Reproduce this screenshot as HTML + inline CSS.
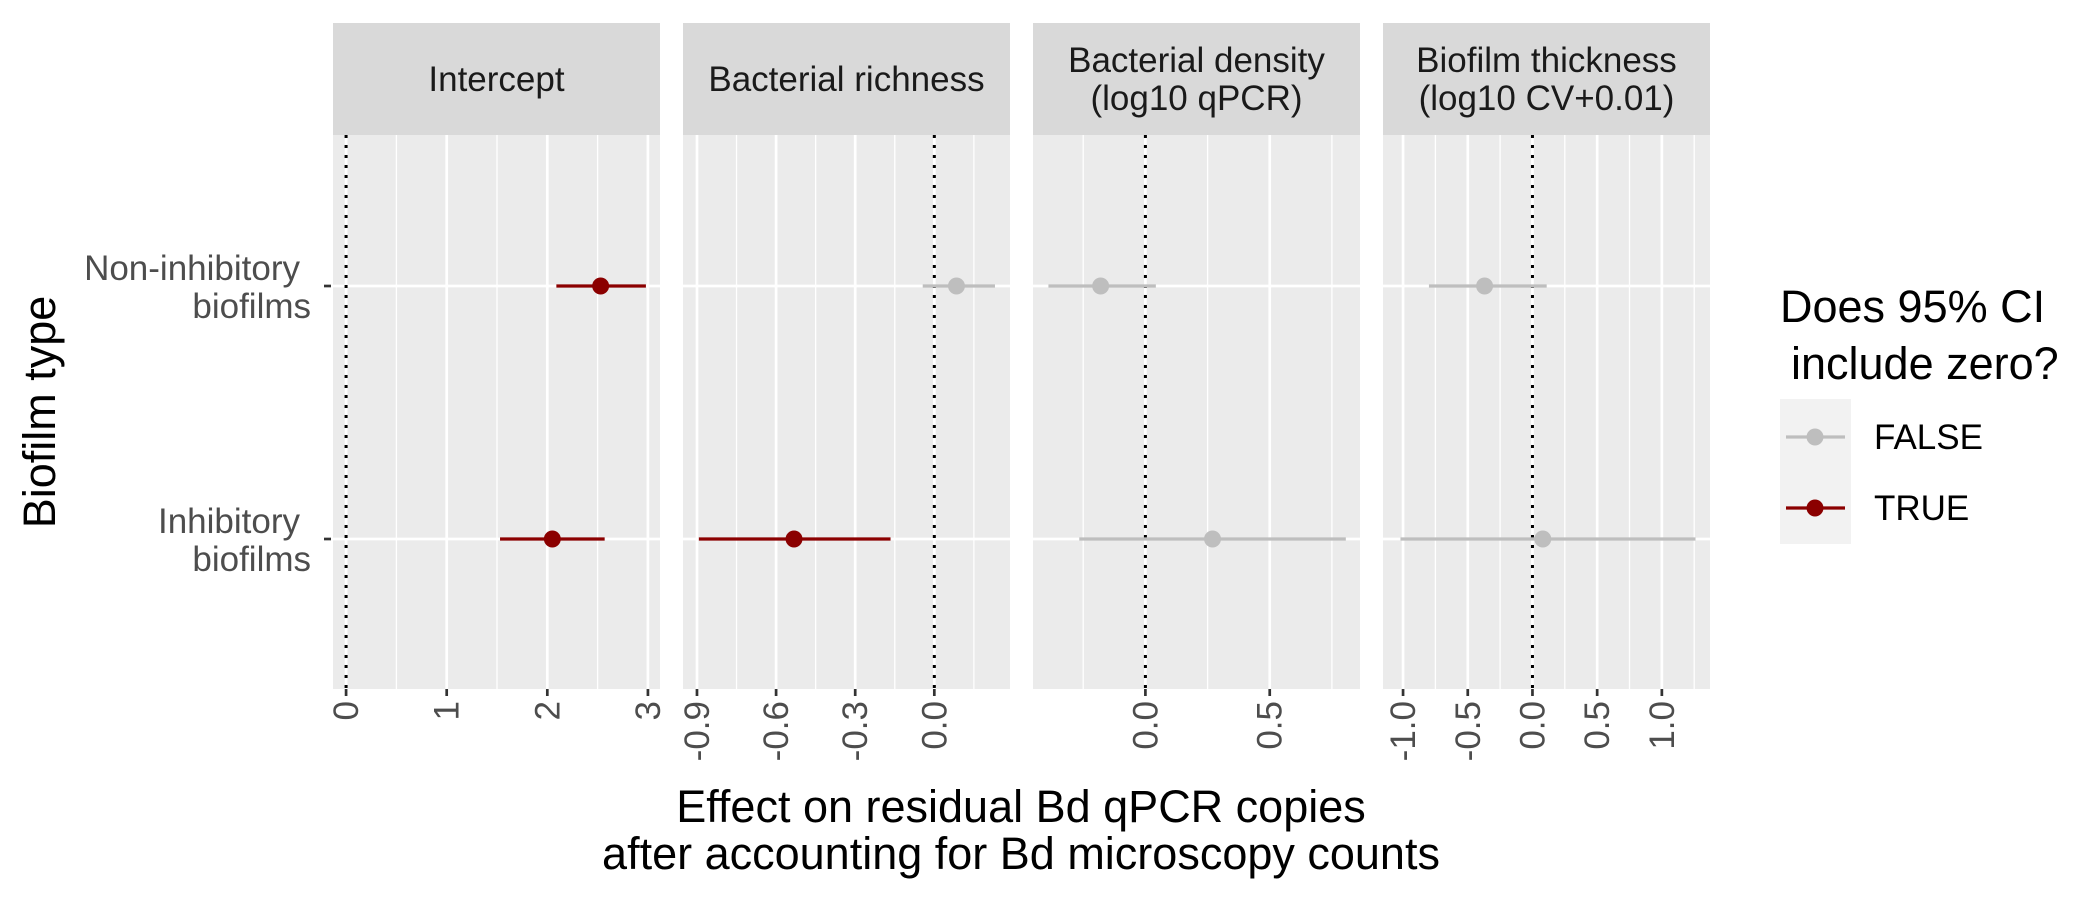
<!DOCTYPE html>
<html><head><meta charset="utf-8"><style>
body{margin:0;background:#fff}
svg{display:block;font-family:"Liberation Sans",sans-serif}
</style></head><body>
<svg id="chart" width="2100" height="900"></svg>
<script>
const panelTitles=[["Intercept"],["Bacterial richness"],["Bacterial density","(log10 qPCR)"],["Biofilm thickness","(log10 CV+0.01)"]];
const categories=["Non-inhibitory biofilms","Inhibitory biofilms"];
const estimates=[[2.53,2.05],[0.084,-0.532],[-0.18,0.27],[-0.37,0.08]];
const lowerCI=[[2.09,1.53],[-0.044,-0.893],[-0.39,-0.266],[-0.80,-1.02]];
const upperCI=[[2.98,2.57],[0.23,-0.166],[0.042,0.806],[0.11,1.26]];
const includesZero=[[false,false],[true,false],[true,true],[true,true]];
const xDomains=[[-0.13,3.12],[-0.953,0.287],[-0.452,0.863],[-1.155,1.372]];
const tickValues=[[0,1,2,3],[-0.9,-0.6,-0.3,0.0],[0.0,0.5],[-1.0,-0.5,0.0,0.5,1.0]];
const tickLabels=[["0","1","2","3"],["-0.9","-0.6","-0.3","0.0"],["0.0","0.5"],["-1.0","-0.5","0.0","0.5","1.0"]];
const minorTicks=[[0.5,1.5,2.5],[-0.75,-0.45,-0.15,0.15],[-0.25,0.25,0.75],[-0.75,-0.25,0.25,0.75,1.25]];

const NS="http://www.w3.org/2000/svg";
const svg=document.getElementById('chart');
function mk(tag,attrs,parent){const e=document.createElementNS(NS,tag);for(const k in attrs)e.setAttribute(k,attrs[k]);(parent||svg).appendChild(e);return e;}
const panelX=[333,683,1033,1383],PW=327,PT=135,PB=689,ST=23;
const rowY=[286,539];
function yPos(i){return rowY[0]+i*(rowY[1]-rowY[0]);}
panelX.forEach((px,p)=>{
  const g=mk('g',{});
  
  
  const xs=v=>px+(v-xDomains[p][0])/(xDomains[p][1]-xDomains[p][0])*PW;
  const strip=mk('rect',{x:px,y:ST,width:PW,height:PT-ST,fill:'#d9d9d9'},g);
  
  
  const tl=panelTitles[p];
  tl.forEach((t,i)=>{
    const tx=mk('text',{x:px+PW/2,y:(ST+PT)/2+12+(i-(tl.length-1)/2)*38,'text-anchor':'middle','font-size':35,fill:'#1a1a1a'},g);
    tx.textContent=t;
    
    
  });
  mk('rect',{x:px,y:PT,width:PW,height:PB-PT,fill:'#ebebeb'},g);
  minorTicks[p].forEach(v=>mk('line',{x1:xs(v),x2:xs(v),y1:PT,y2:PB,stroke:'#fff','stroke-width':1.3},g));
  tickValues[p].forEach((v,i)=>{
    mk('line',{x1:xs(v),x2:xs(v),y1:PT,y2:PB,stroke:'#fff','stroke-width':2.7},g);
    mk('line',{x1:xs(v),x2:xs(v),y1:PB,y2:PB+7,stroke:'#333','stroke-width':2.7},g);
    const t=mk('text',{transform:`translate(${xs(v)+12},${PB+12}) rotate(-90)`,'text-anchor':'end','font-size':35,fill:'#4d4d4d'},g);
    t.textContent=tickLabels[p][i];
    
    
  });
  categories.forEach((c,i)=>mk('line',{x1:px,x2:px+PW,y1:yPos(i),y2:yPos(i),stroke:'#fff','stroke-width':2.7},g));
  mk('line',{x1:xs(0),x2:xs(0),y1:PT,y2:PB,stroke:'#000','stroke-width':3,'stroke-dasharray':'3,7'},g);
  categories.forEach((c,i)=>{
    const col=includesZero[p][i]?'#bebebe':'#8b0000';
    const l=mk('line',{x1:xs(lowerCI[p][i]),x2:xs(upperCI[p][i]),y1:yPos(i),y2:yPos(i),stroke:col,'stroke-width':3.2},g);
    
    
    const pt=mk('circle',{cx:xs(estimates[p][i]),cy:yPos(i),r:8.5,fill:col},g);
    
    
  });
});
[[["Non-inhibitory",300],["biofilms",311]],[["Inhibitory",300],["biofilms",311]]].forEach((ls,i)=>{
  mk('line',{x1:324,x2:331,y1:yPos(i),y2:yPos(i),stroke:'#333','stroke-width':2.7});
  ls.forEach(([t,x],j)=>{
    const e=mk('text',{x:x,y:yPos(i)-6+j*38,'text-anchor':'end','font-size':35,fill:'#4d4d4d'});
    e.textContent=t;
    
    
  });
});
const yt=mk('text',{transform:'translate(55,412) rotate(-90)','text-anchor':'middle','font-size':45,fill:'#000'});
yt.textContent='Biofilm type';


[["Effect on residual Bd qPCR copies",822],["after accounting for Bd microscopy counts",869]].forEach(([t,y])=>{
  const e=mk('text',{x:1021,y:y,'text-anchor':'middle','font-size':45,fill:'#000'});
  e.textContent=t;
  
  
});
[["Does 95% CI",322],["include zero?",379]].forEach(([t,y],i)=>{
  const e=mk('text',{x:1780+(i?11:0),y:y,'font-size':45,fill:'#000'});
  e.textContent=t;
  
  
});
mk('rect',{x:1780,y:399,width:71,height:145,fill:'#f2f2f2'});
[["FALSE",'#bebebe',437],["TRUE",'#8b0000',508]].forEach(([t,c,y])=>{
  const g=mk('g',{});
  
  
  mk('line',{x1:1786,x2:1845,y1:y,y2:y,stroke:c,'stroke-width':3.2},g);
  mk('circle',{cx:1815,cy:y,r:8.5,fill:c},g);
  const e=mk('text',{x:1874,y:y+12,'font-size':35,fill:'#000'},g);
  e.textContent=t;
});
</script>
</body></html>
